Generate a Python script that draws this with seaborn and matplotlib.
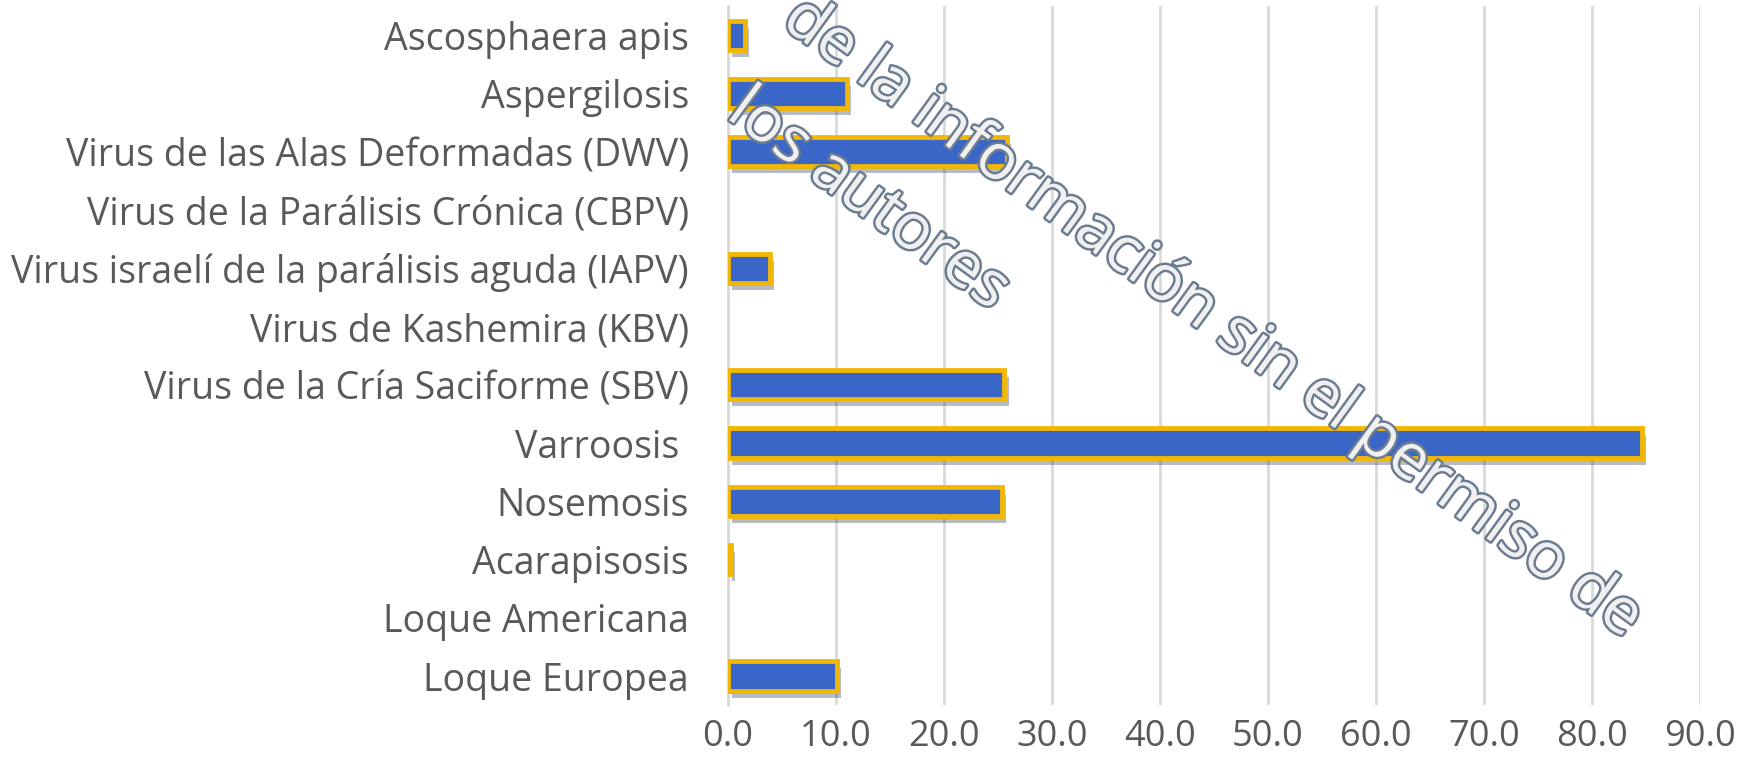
import matplotlib
matplotlib.use("Agg")
import matplotlib.pyplot as plt
import matplotlib.patheffects as pe
import pandas as pd
import seaborn as sns

# Datos (porcentaje de detección por enfermedad)
enfermedades = [
    "Ascosphaera apis",
    "Aspergilosis",
    "Virus de las Alas Deformadas (DWV)",
    "Virus de la Parálisis Crónica (CBPV)",
    "Virus israelí de la parálisis aguda (IAPV)",
    "Virus de Kashemira (KBV)",
    "Virus de la Cría Saciforme (SBV)",
    "Varroosis ",
    "Nosemosis",
    "Acarapisosis",
    "Loque Americana",
    "Loque Europea",
]
porcentajes = [1.6, 11.0, 25.8, 0.0, 3.9, 0.0, 25.6, 84.6, 25.4, 0.3, 0.0, 10.1]
ticks_x = [0, 10, 20, 30, 40, 50, 60, 70, 80, 90]

df = pd.DataFrame({"enfermedad": enfermedades, "pct": porcentajes})

sns.set_style("white")
plt.rcParams["font.family"] = ["Open Sans", "DejaVu Sans"]

fig = plt.figure(figsize=(17.58, 7.8), dpi=100)
ax = fig.add_axes([0.414, 0.096, 0.553, 0.896])

sns.barplot(data=df, x="pct", y="enfermedad", orient="h", color="#3A66C8",
            saturation=1, width=0.5, edgecolor="#F2B705", linewidth=3.5, ax=ax, zorder=3)

for bar, v in zip(ax.patches, porcentajes):
    if v == 0:
        bar.set_visible(False)
        continue
    bar.set_path_effects([pe.SimplePatchShadow(offset=(3, -5), alpha=0.3), pe.Normal()])

ax.set_xlim(0, 90)
ax.set_xticks(ticks_x)
ax.set_xticklabels([f"{t:.1f}" for t in ticks_x])
ax.set_xlabel("")
ax.set_ylabel("")
ax.grid(axis="x", color="#D9D9D9", linewidth=2, zorder=0)
ax.grid(axis="y", visible=False)
ax.set_axisbelow(True)
for s in ["top", "right", "bottom"]:
    ax.spines[s].set_visible(False)
ax.spines["left"].set_color("#D9D9D9")
ax.spines["left"].set_linewidth(2)
ax.tick_params(axis="y", length=0, pad=28, labelsize=27, labelcolor="#595959")
ax.tick_params(axis="x", length=0, pad=10, labelsize=26, labelcolor="#595959")

# Marca de agua
wm = dict(rotation=-36, rotation_mode="anchor", ha="left", va="baseline",
          fontsize=46, color="#F0F0F0", transform=fig.transFigure, zorder=10,
          path_effects=[pe.withStroke(linewidth=3.5, foreground="#6B7B90")])
fig.text(780 / 1758, 1 - 25 / 780, "de la información sin el permiso de", **wm)
fig.text(725 / 1758, 1 - 117 / 780, "los autores", **wm)

fig.savefig("out.png", dpi=100)
